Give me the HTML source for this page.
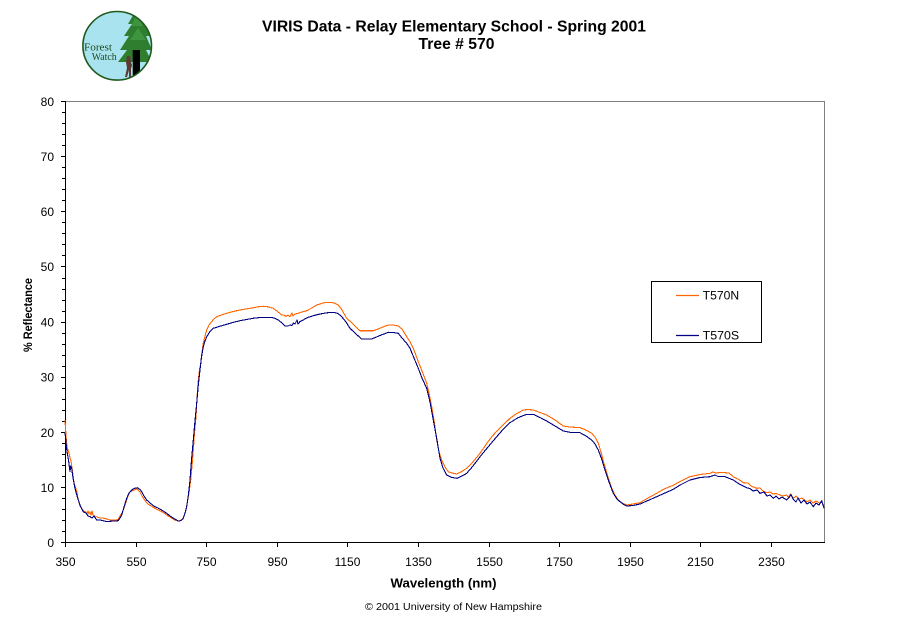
<!DOCTYPE html>
<html>
<head>
<meta charset="utf-8">
<style>
html,body{margin:0;padding:0;background:#fff;}
svg{display:block;}
text{font-family:"Liberation Sans",Arial,sans-serif;fill:#000;}
.serif{font-family:"Liberation Serif",serif;fill:#1e4a1e;}
</style>
</head>
<body>
<svg width="911" height="623" viewBox="0 0 911 623" xmlns="http://www.w3.org/2000/svg">
<rect x="0" y="0" width="911" height="623" fill="#fff"/>
<defs><clipPath id="lc"><circle cx="117.2" cy="45.8" r="34"/></clipPath></defs>
<circle cx="117.2" cy="45.8" r="34.3" fill="#a9e3ef"/>
<g clip-path="url(#lc)">
<polygon points="136,10 128,24 132,24 124,36 129,36 120,50 127,50 118,62 152,62 146,50 152,50 146,36 151,36 144,24 148,24" fill="#2f7d2f"/>
<polygon points="137,14 131,26 143,26" fill="#3f9440"/>
<polygon points="138,28 130,40 146,40" fill="#3f9440"/>
<rect x="132.7" y="50" width="7.3" height="28" fill="#000"/>
<path d="M127,56 l3,0 l1,6 l1,3 l-1,4 l0,8 l-2,0 l0,-7 l-2,7 l-2,0 l2,-9 l-1,-6 z" fill="#5a3a32"/>
</g>
<circle cx="117.2" cy="45.8" r="34.3" fill="none" stroke="#1e5a1e" stroke-width="1.6"/>
<text class="serif" x="84" y="50.7" font-size="11" textLength="28" lengthAdjust="spacingAndGlyphs">Forest</text>
<text class="serif" x="91.7" y="60" font-size="10.5" textLength="25" lengthAdjust="spacingAndGlyphs">Watch</text>

<text x="454" y="31.5" font-size="15.7" font-weight="bold" text-anchor="middle" textLength="384" lengthAdjust="spacingAndGlyphs">VIRIS Data - Relay Elementary School - Spring 2001</text>
<text x="456.5" y="49" font-size="15.7" font-weight="bold" text-anchor="middle">Tree # 570</text>

<line x1="65" y1="101.5" x2="824" y2="101.5" stroke="#808080"/>
<line x1="824.5" y1="101" x2="824.5" y2="542" stroke="#808080"/>
<line x1="65.5" y1="101" x2="65.5" y2="543" stroke="#000"/>
<line x1="65" y1="542.5" x2="825" y2="542.5" stroke="#000"/>

<path stroke="#000" stroke-width="1" fill="none" d="M61 542.5H65M62 531.5H65M62 520.5H65M62 509.5H65M62 498.5H65M61 487.5H65M62 476.5H65M62 465.5H65M62 454.5H65M62 443.5H65M61 432.5H65M62 421.5H65M62 410.5H65M62 399.5H65M62 388.5H65M61 377.5H65M62 366.5H65M62 355.5H65M62 344.5H65M62 333.5H65M61 322.5H65M62 311.5H65M62 300.5H65M62 289.5H65M62 278.5H65M61 266.5H65M62 255.5H65M62 244.5H65M62 233.5H65M62 222.5H65M61 211.5H65M62 200.5H65M62 189.5H65M62 178.5H65M62 167.5H65M61 156.5H65M62 145.5H65M62 134.5H65M62 123.5H65M62 112.5H65M61 101.5H65"/>
<g font-size="12" text-anchor="end">
<text x="54" y="547">0</text>
<text x="54" y="492">10</text>
<text x="54" y="437">20</text>
<text x="54" y="381.5">30</text>
<text x="54" y="326.5">40</text>
<text x="54" y="271">50</text>
<text x="54" y="216">60</text>
<text x="54" y="161">70</text>
<text x="54" y="106">80</text>
</g>

<path stroke="#000" stroke-width="1" fill="none" d="M65.5 542V547M136.5 542V547M206.5 542V547M277.5 542V547M347.5 542V547M418.5 542V547M489.5 542V547M559.5 542V547M630.5 542V547M700.5 542V547M771.5 542V547"/>
<g font-size="12" text-anchor="middle">
<text x="65.5" y="566">350</text>
<text x="136.5" y="566">550</text>
<text x="206.5" y="566">750</text>
<text x="277.5" y="566">950</text>
<text x="347.5" y="566">1150</text>
<text x="418.5" y="566">1350</text>
<text x="489.5" y="566">1550</text>
<text x="559.5" y="566">1750</text>
<text x="630.5" y="566">1950</text>
<text x="700.5" y="566">2150</text>
<text x="771.5" y="566">2350</text>
</g>

<text x="443.5" y="587.5" font-size="12.5" font-weight="bold" text-anchor="middle" textLength="106" lengthAdjust="spacingAndGlyphs">Wavelength (nm)</text>
<text transform="translate(32,315) rotate(-90)" x="0" y="0" font-size="11.5" font-weight="bold" text-anchor="middle" textLength="74" lengthAdjust="spacingAndGlyphs">% Reflectance</text>
<text x="453.5" y="610" font-size="10.5" text-anchor="middle" textLength="177" lengthAdjust="spacingAndGlyphs">© 2001 University of New Hampshire</text>

<polyline fill="none" stroke="#ff6600" stroke-width="1.1" stroke-linejoin="round" shape-rendering="crispEdges" points="65,420 65.5,428 66,436 67,447 68,450 69,453 70,458 71,461 72,468 73,475 74,483 75,486 76,489 77,492 78,499 79,502 80,506 82,509 84,511 86,512 87,514 88,511 89,514 90,512 91,515 92,511 93,515 95,516 97,517 100,518 103,518 107,519 110,520 113,520 116,520 118,519.5 120,516 122,513 124,508 125,505 127,499 128.3,495 130,492 132,491 134,490 136.7,489 138,490 140,492 142,496 143.3,498 146,502 148.3,504.3 152,506.5 155,508.3 158,510 161.7,511.7 164,513 166.7,515 170,517 173.3,519.3 176,520.5 178.3,521 180,520.8 182.7,519.3 184,516 186,510 187,504 188.3,497 189.5,489 190.7,480 192,466 193.3,450 194.5,433 196,416.7 197,398 198.3,380 199.5,370 200.7,363.3 202,352 203.3,343.3 205,336 206.7,330 209,325 211.7,321.7 214,319 216.7,316.7 220,315.5 226.7,313.3 233,311.5 240,310 247,308.8 253.3,307.7 258,306.8 263.3,306.3 268,306.8 273.3,308.3 277,311 281.7,315 284,315 286,316.5 288,315 290,316.7 292,313 293,316 295,314 298.3,313.3 302,312 306.7,310.7 311,308.5 316.7,305 322,303.3 326,302.3 330,302.3 334,303 338.3,305 342,310 346.7,318.3 352,323 356,327 360,330.7 366,330.7 373.3,330.7 378,329 383,327 388.3,325 393,325 398.3,326 402,329 406.7,336.7 410,341.7 414,350 418.3,361.7 422,371 426.7,383.3 429,393 431.7,406.7 434,420 436.7,440 439,452 441.7,460 445,467 448.3,471.7 452,473 456.7,474 461,472 466.7,468.3 472,463 480,453.3 487,443 493.3,435 500,428 510,418.3 516,414 523.3,410 528,409.5 533.3,410 540,412.5 546.7,415 555,420 563.3,426 570,427 580,427.7 586,430 591.7,433.3 595,437 598.3,443.3 601,452 603,460 605,466.7 608,477 611.7,488.3 615,495 618.3,500 622,503 626.7,505 633,504 640,502.7 648,498 656.7,493.3 664,489 673.3,485.3 681,481 690,476.7 700,474.5 710,473.3 713,472 716,473 720,472.5 725,472.7 729,473 733.3,476.7 738,479 743.3,482.7 748,483 751,486 756.7,488.3 760,488 763,491 766.7,492.7 770,492 773,494 776,493.5 780,495 783,496 786.7,495 788,497 790.7,494 793.3,498.3 796,496 799,499 802,498 806.7,501.7 810,500 813,503 816,501 820,503.3 822,502 824,506.7"/>

<polyline fill="none" stroke="#000080" stroke-width="1.1" stroke-linejoin="round" shape-rendering="crispEdges" points="65,433 65.5,437 66.5,448 67.3,453.3 68.5,460 70,471.7 70.7,466 71.7,468.3 73,478 75,488.3 76.5,494 78.3,500 80,505 83.3,511.7 86,513 88,516 90,516.7 92,518 94,516 96.7,520 100,520 103.3,520.7 106,521.5 110,521.3 114,521 118.3,520.7 120,518 121.7,515 124,507 126.7,498.3 129,493 131.7,490 134,488.5 137.3,487.7 140,489.5 141.7,491.7 144,496 146.7,500 150,503 153.3,505.7 158,508 163.3,511 167,513.5 170,516 174,518.5 178.3,521 181,520.5 183.3,518.3 185,513 186.7,506.7 188.5,494 190,480 191.5,460 193.3,440 195,421 196.7,403.3 198.3,385 200,370 201.5,357 203.3,346.7 205,341 206.7,336.7 210,331.5 213.3,328.3 220,326.2 226.7,324.3 233,322.4 240,320.7 247,319.4 253.3,318.3 260,317.5 270,317.3 274,318 278.3,320 282,323 285,326 288,326 290,325 292,325.5 293.3,323 295,324 297,320 298,324 300,321.7 304,319.5 308.3,317.3 314,315.5 320,314 327,312.8 333.3,312.3 338,313.5 341.7,316.7 346,322 350,328.3 356,334 361.7,339 366,339 371.7,339 380,335.5 388.3,332.3 393,332.5 398.3,333.3 402,338 406.7,343.3 410,348.3 414,358 418.3,368.3 422,378 426.7,388.3 430,402 433.3,420 437,440 440,458.3 443,468 446.7,475 452,477.5 457.3,478.3 462,476 466.7,473.3 473,466 480,456.7 488,447 496.7,436.7 503,429.5 510,422.7 518,417.7 526.7,414.3 533.3,414.3 540,417.5 546.7,421 555,426 563.3,431 570,432.3 580,432.7 586,436 591.7,440 595,444 598.3,450 602,460 605,470 609,482 613.3,493.3 617,499 620,501.7 623,504 626.7,506 633,505.5 640,504 648,500.5 656.7,496.7 665,493 673.3,489.3 681,484.5 690,480 700,477.5 710,476.7 715,475 718,476.5 725,476.7 733.3,480 740,484.5 746.7,487.7 750,488.5 753,491 757,490 760,493.3 764,492 767,496 770,495 773.3,498.3 776,496 779,499 782,497 786.7,500 789,497.5 791,494.5 793,499 796,502 798,498 801,503 804,500 807,504 810,502 813.3,506.7 816,503 819,505 821.7,500.7 823,505 824,508.3"/>

<rect x="651.5" y="281.5" width="110" height="61" fill="#fff" stroke="#000" stroke-width="1"/>
<line x1="676" y1="295.5" x2="699" y2="295.5" stroke="#ff6600" stroke-width="1.3"/>
<line x1="676" y1="335.5" x2="699" y2="335.5" stroke="#000080" stroke-width="1.3"/>
<text x="702.7" y="299.5" font-size="12" textLength="36.5" lengthAdjust="spacingAndGlyphs">T570N</text>
<text x="702.7" y="339.5" font-size="12" textLength="36.5" lengthAdjust="spacingAndGlyphs">T570S</text>
</svg>
</body>
</html>
